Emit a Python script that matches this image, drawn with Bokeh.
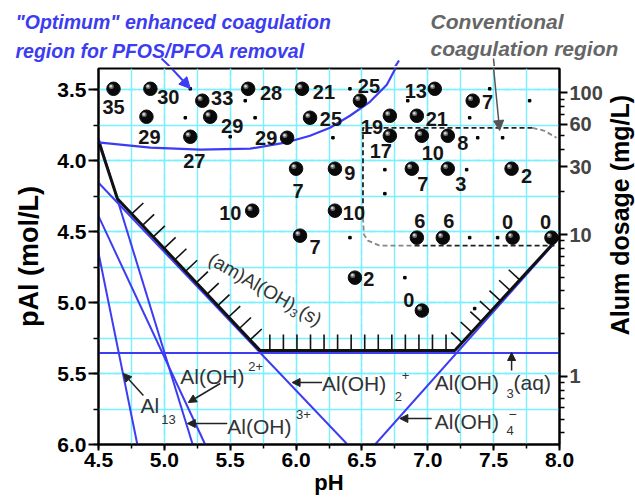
import numpy as np
from bokeh.plotting import figure
from bokeh.layouts import column, row
from bokeh.models import (Range1d, LinearAxis, LogScale, FixedTicker, SingleIntervalTicker,
                          PrintfTickFormatter, BasicTickFormatter, Label, Arrow, NormalHead,
                          ColumnDataSource)
from bokeh.embed import file_html
from bokeh.resources import INLINE
from bokeh.core.properties import value

# ---------------- data ----------------
# jar-test observations: pH, pAl (mol/L) and removal value shown beside each sphere
obs_ph = [4.614, 4.894, 5.288, 5.348, 5.636, 6.045, 4.864, 5.197, 5.932, 6.106,
          6.485, 7.053, 7.341, 6.712, 6.917, 6.712, 6.955, 7.152, 6.000, 6.295,
          6.879, 7.152, 7.636, 5.667, 6.295, 6.030, 6.447, 6.917, 7.114, 7.644,
          7.939, 6.955]
obs_pal = [3.493, 3.493, 3.577, 3.690, 3.493, 3.493, 3.690, 3.831, 3.838, 3.697,
           3.577, 3.493, 3.577, 3.683, 3.683, 3.824, 3.824, 3.824, 4.056, 4.056,
           4.056, 4.056, 4.056, 4.352, 4.352, 4.528, 4.824, 4.542, 4.542, 4.542,
           4.542, 5.056]
obs_removal = ["35", "30", "33", "29", "28", "21", "29", "27", "29", "25",
               "25", "13", "7", "19", "21", "17", "10", "8", "7", "9",
               "7", "3", "2", "10", "10", "7", "2", "6", "6", "0",
               "0", "0"]

# small dots (additional sampling points)
dot_ph = [5.197, 5.159, 5.614, 5.689, 5.500, 6.409, 6.848, 7.318, 7.470, 7.773,
          7.568, 7.379, 6.280, 6.674, 6.674, 7.295, 6.409, 7.318, 7.530, 6.826, 7.356]
dot_pal = [3.493, 3.697, 3.577, 3.697, 3.831, 3.493, 3.577, 3.697, 3.493, 3.577,
           3.838, 3.838, 3.838, 4.063, 4.232, 4.063, 4.542, 4.542, 4.542, 4.824, 5.042]

# (am)Al(OH)3(s) solubility boundary
am_ph = [4.50, 4.644, 5.727, 7.205, 8.00]
am_pal = [3.86, 4.268, 5.338, 5.338, 4.535]

# species lines
al13_ph, al13_pal = [4.50, 4.795], [4.65, 6.00]
al3_ph, al3_pal = [4.50, 5.215], [3.84, 6.00]
aloh_ph, aloh_pal = [4.50, 5.31], [4.39, 6.00]
aloh2_ph, aloh2_pal = [4.50, 6.39], [4.155, 6.00]
aloh3_ph, aloh3_pal = [4.50, 8.00], [5.355, 5.355]
aloh4_ph, aloh4_pal = [6.60, 8.00], [6.00, 4.54]

# "optimum" region boundary
opt_ph = [4.364, 4.515, 4.894, 5.273, 5.652, 5.917, 6.106, 6.258, 6.409, 6.561, 6.689, 6.773]
opt_pal = [3.838, 3.873, 3.908, 3.922, 3.915, 3.873, 3.824, 3.768, 3.683, 3.585, 3.465, 3.317]

# conventional coagulation region boundary
conv_black1_ph, conv_black1_pal = [7.795, 6.508, 6.508], [3.768, 3.768, 4.40]
conv_gray1_ph, conv_gray1_pal = [6.508, 6.515, 6.545, 6.636, 6.90], [4.40, 4.52, 4.563, 4.599, 4.599]
conv_black2_ph, conv_black2_pal = [6.90, 7.962], [4.599, 4.599]
conv_gray2_ph, conv_gray2_pal = [7.795, 7.886, 7.977], [3.768, 3.789, 3.838]

# right axis: alum dosage (mg/L) <-> pAl
dose_k = 5.52
dose_ticks = [1, 10, 30, 60, 100]
dose_minor = [0.4, 0.5, 0.6, 0.7, 0.8, 0.9, 2, 3, 4, 5, 6, 7, 8, 9,
              20, 40, 50, 70, 80, 90]

# label offsets for the removal numbers (screen px; dx right, dy down)
lbl_dx = [0, 18, 20, 22, 23, 22, 3, 4, -21, 21, 9, -19, 15, -18, 20, -9, 11, 15, 2, 15,
          11, 13, 15, -22, 19, 15, 14, 3, 6, -5, -6, -13]
lbl_dy = [18, 8, -3, 9, 4, 3, 20, 24, 0, 1, -15, 2, 1, 11, 3, 15, 17, 7, 22, 4,
          15, 15, 7, 2, 2, 11, 1, -17, -17, -16, -16, -11]

# ---------------- geometry ----------------
X0, X1, Y0, Y1 = 4.5, 8.0, 6.0, 3.35
FL, FT, FW, FH = 98, 68, 462.0, 376.0     # frame left/top/width/height on the page
TOP_H = 66
MAIN_W, MAIN_H = 605, 436
PXX = FW / (X1 - X0)
PXY = FH / (Y0 - Y1)

def sx(px):  # page px -> pH
    return X0 + (px - FL) / PXX

def sy(py):  # page px -> pAl
    return Y1 + (py - FT) / PXY

FONT = "Liberation Sans"
BLUE = "#3c3cf2"
CYAN = "#78f0ff"
GRAYT = "#666666"
SPEC = "#333333"

# ---------------- main figure ----------------
p = figure(width=MAIN_W, height=MAIN_H, x_range=Range1d(X0, X1), y_range=Range1d(Y0, Y1),
           output_backend="svg", toolbar_location=None,
           min_border_left=FL, min_border_right=MAIN_W - FL - int(FW), min_border_top=FT - TOP_H,
           min_border_bottom=MAIN_H - (FT - TOP_H) - int(FH),
           extra_y_ranges={"dose": Range1d(10 ** (dose_k - Y0), 10 ** (dose_k - Y1))},
           extra_y_scales={"dose": LogScale()})
p.outline_line_color = "black"
p.outline_line_width = 2
p.background_fill_color = "white"
p.border_fill_color = "white"

for ax in (p.xaxis[0], p.yaxis[0]):
    ax.ticker = SingleIntervalTicker(interval=0.5, num_minor_ticks=2)
    ax.formatter = PrintfTickFormatter(format="%.1f")
    ax.major_label_text_font = FONT
    ax.major_label_text_font_size = "21px"
    ax.major_label_text_font_style = "bold"
    ax.major_label_text_color = "black"
    ax.axis_line_width = 2
    ax.major_tick_line_width = 2
    ax.minor_tick_line_width = 1.5
    ax.major_tick_in = 0
    ax.minor_tick_in = 0
    ax.axis_label_text_font = FONT
    ax.axis_label_text_font_style = "bold"
    ax.axis_label_text_color = "black"
p.xaxis.major_tick_out = 6
p.xaxis.minor_tick_out = 4
p.xaxis.major_label_standoff = 2
p.xaxis.axis_label = "pH"
p.xaxis.axis_label_text_font_size = "22px"
p.xaxis.axis_label_standoff = 0
p.yaxis.major_tick_out = 10
p.yaxis.minor_tick_out = 5
p.yaxis.major_label_standoff = 2
p.yaxis.axis_label = "pAl (mol/L)"
p.yaxis.axis_label_text_font_size = "27px"
p.yaxis.axis_label_standoff = 10

rax = LinearAxis(y_range_name="dose", ticker=FixedTicker(ticks=dose_ticks, minor_ticks=dose_minor),
                 formatter=BasicTickFormatter())
rax.major_label_text_font = FONT
rax.major_label_text_font_size = "20px"
rax.major_label_text_font_style = "bold"
rax.axis_line_width = 2
rax.major_tick_line_width = 2
rax.minor_tick_line_width = 1.5
rax.major_tick_in = 0
rax.minor_tick_in = 0
rax.major_tick_out = 8
rax.minor_tick_out = 5
rax.major_label_standoff = 2
p.add_layout(rax, "right")

for g in (p.xgrid[0], p.ygrid[0]):
    g.grid_line_color = CYAN
    g.grid_line_width = 1.4
    g.grid_line_dash = "7 3 2 3"
    g.minor_grid_line_color = CYAN
    g.minor_grid_line_width = 1.4

# species lines
for xs, ys in ((al13_ph, al13_pal), (al3_ph, al3_pal), (aloh_ph, aloh_pal),
               (aloh2_ph, aloh2_pal), (aloh3_ph, aloh3_pal), (aloh4_ph, aloh4_pal)):
    p.line(xs, ys, line_color=BLUE, line_width=2)

# solubility boundary
p.line(am_ph, am_pal, line_color="#111111", line_width=3)

def hatch(i, n, t0, t1, length):
    a = np.array([am_ph[i], am_pal[i]])
    b = np.array([am_ph[i + 1], am_pal[i + 1]])
    d = np.array([(b[0] - a[0]) * PXX, (b[1] - a[1]) * PXY])
    d = d / np.hypot(*d)
    nrm = np.array([d[1], -d[0]])
    ts = np.linspace(t0, t1, n)
    rx = a[0] + ts * (b[0] - a[0])
    ry = a[1] + ts * (b[1] - a[1])
    return rx, ry, rx + nrm[0] * length / PXX, ry + nrm[1] * length / PXY

for args in ((1, 12, 0.10, 0.93, 16), (2, 14, 0.05, 0.955, 16), (3, 7, 0.07, 0.62, 15)):
    x0, y0, x1, y1 = hatch(*args)
    p.segment(x0, y0, x1, y1, line_color="#111111", line_width=1.6)

# conventional region
for xs, ys, c in ((conv_black1_ph, conv_black1_pal, "#222222"), (conv_gray1_ph, conv_gray1_pal, "#888888"),
                  (conv_black2_ph, conv_black2_pal, "#222222"), (conv_gray2_ph, conv_gray2_pal, "#888888")):
    p.line(xs, ys, line_color=c, line_width=1.8, line_dash="5 3")

# optimum region boundary
p.line(opt_ph, opt_pal, line_color=BLUE, line_width=2.2)

# small dots
p.scatter(dot_ph, dot_pal, marker="square", size=2.5, color="black")

# spheres
oph = np.array(obs_ph)
opal = np.array(obs_pal)
p.scatter(oph, opal, size=13.5, color="#0a0a0a")
p.scatter(oph - 2.2 / PXX, opal - 2.2 / PXY, size=5, color="#707070", line_alpha=0)
p.scatter(oph - 2.6 / PXX, opal - 2.6 / PXY, size=2.5, color="#d8d8d8", line_alpha=0)

src = ColumnDataSource(dict(x=oph + np.array(lbl_dx) / PXX, y=opal + np.array(lbl_dy) / PXY,
                            t=obs_removal))
p.text(x="x", y="y", text="t", source=src, text_align="center", text_baseline="middle",
       text_font=value(FONT), text_font_size="20px", text_font_style="bold", text_color="#151515")

# arrows
def arrow(fig, fx, fy, xa, ya, xb, yb, color, width=1.5, size=8, head=True):
    end = NormalHead(size=size, fill_color=color, line_color=color) if head else None
    fig.add_layout(Arrow(end=end, x_start=fx(xa), y_start=fy(ya), x_end=fx(xb), y_end=fy(yb),
                         line_color=color, line_width=width))

arrow(p, sx, sy, 171.4, 68, 190, 88, BLUE, 2, 11)
arrow(p, sx, sy, 494, 68, 500, 130, "#555555", 1.5, 10)
arrow(p, sx, sy, 220, 383, 188, 402, "#222222")
arrow(p, sx, sy, 143, 395, 123, 373, "#222222")
arrow(p, sx, sy, 227, 423, 187, 423, "#222222")
arrow(p, sx, sy, 322, 382, 292, 382, "#222222")
arrow(p, sx, sy, 512, 370, 512, 352, "#222222")
arrow(p, sx, sy, 432, 418, 400, 418, "#222222")

def lab(fig, fx, fy, txt, xp, yp, size, color=SPEC, style="normal", angle=0.0, align="left",
        baseline="middle"):
    fig.add_layout(Label(x=fx(xp), y=fy(yp), text=txt, text_font=FONT, text_font_size=size,
                         text_font_style=style, text_color=color, angle=angle,
                         text_align=align, text_baseline=baseline))

def mlab(*a, **k):
    lab(p, sx, sy, *a, **k)

# species labels
mlab("Al(OH)", 180, 376, "21px")
mlab("2+", 248, 366, "13px")
mlab("Al", 140, 405, "21px")
mlab("13", 161, 419, "13px")
mlab("Al(OH)", 227, 426, "21px")
mlab("3+", 296, 414, "13px")
mlab("Al(OH)", 322, 383, "21px")
mlab("2", 395, 396, "13px")
mlab("+", 402, 375, "13px")
mlab("Al(OH)", 435, 382, "21px")
mlab("3", 507, 393, "13px")
mlab("(aq)", 514, 382, "21px")
mlab("Al(OH)", 435, 421, "21px")
mlab("4", 507, 430, "13px")
mlab("\u2212", 509, 413, "14px")

# rotated solid label
th = np.radians(30)
ux, uy = np.cos(th), np.sin(th)
dx, dy = -np.sin(th), np.cos(th)
bx, by = 210, 257
mlab("(am)Al(OH)", bx, by, "19px", SPEC, "normal", -th)
mlab("3", bx + 97 * ux + 6 * dx, by + 97 * uy + 6 * dy, "12px", SPEC, "normal", -th)
mlab("(s)", bx + 105 * ux, by + 105 * uy, "19px", SPEC, "normal", -th)

# ---------------- top strip (titles) ----------------
TOP_W = 635
top = figure(width=TOP_W, height=TOP_H, x_range=Range1d(0, TOP_W), y_range=Range1d(TOP_H, 0),
             output_backend="svg", toolbar_location=None, x_axis_location=None,
             y_axis_location=None, min_border=0, min_border_left=0, min_border_right=0,
             min_border_top=0, min_border_bottom=0)
top.grid.visible = False
top.outline_line_color = None
top.background_fill_color = "white"
top.border_fill_color = "white"

ident = lambda v: v
lab(top, ident, ident, "\"Optimum\" enhanced coagulation", 15, 21, "19.5px", BLUE, "bold italic")
lab(top, ident, ident, "region for PFOS/PFOA removal", 15, 50, "19.5px", BLUE, "bold italic")
lab(top, ident, ident, "Conventional", 430, 21, "21px", GRAYT, "bold italic")
lab(top, ident, ident, "coagulation region", 430, 48, "21px", GRAYT, "bold italic")
arrow(top, ident, ident, 161, 58, 169.3, TOP_H, BLUE, 2, 0, head=False)
arrow(top, ident, ident, 493, 58, 493.8, TOP_H, "#555555", 1.5, 0, head=False)
arrow(top, ident, ident, 394.7, TOP_H, 398.5, 60, BLUE, 2.2, 0, head=False)

# ---------------- right strip (dosage axis title) ----------------
RW = TOP_W - MAIN_W
right = figure(width=RW, height=MAIN_H, x_range=Range1d(0, RW), y_range=Range1d(MAIN_H, 0),
               output_backend="svg", toolbar_location=None, x_axis_location=None,
               y_axis_location=None, min_border=0, min_border_left=0, min_border_right=0,
               min_border_top=0, min_border_bottom=0)
right.grid.visible = False
right.outline_line_color = None
right.background_fill_color = "white"
right.border_fill_color = "white"
lab(right, lambda v: v - MAIN_W, lambda v: v - TOP_H, "Alum dosage (mg/L)", 619, 236, "25px",
    "black", "bold", np.pi / 2, "center", "middle")

layout = column(top, row(p, right, spacing=0), spacing=0)
open("out.html", "w").write(file_html(layout, INLINE))
